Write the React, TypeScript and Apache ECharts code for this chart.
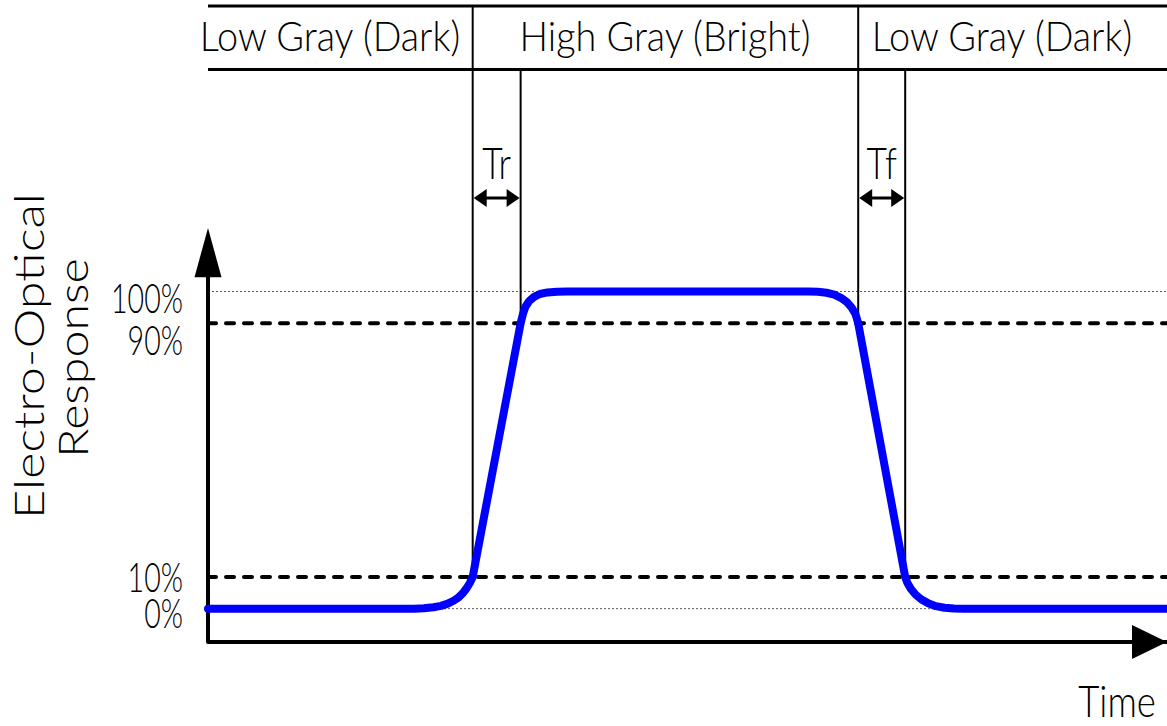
import React, { useEffect, useRef } from "react";
import * as echarts from "echarts";

// Axis extents: time in arbitrary units, response in percent
const timeMin = 0;
const timeMax = 100;
const levelMin = -10.5;
const levelMax = 190;

// Transition instants (10% / 90% crossings)
const riseStart = 27.6;
const riseEnd = 32.6;
const fallStart = 67.8;
const fallEnd = 72.7;

// Electro-optical response curve
const responseTimes = [
  0, 21.5, 22.5, 23.5, 24.3, 25.0, 25.6, 26.1, 26.6, 27.0, 27.3, riseStart,
  riseEnd, 32.85, 33.1, 33.5, 34.0, 34.6, 35.4, 36.4, 37.5,
  62.6, 63.6, 64.5, 65.3, 66.0, 66.6, 67.1, 67.5, fallStart,
  fallEnd, 72.95, 73.3, 73.8, 74.4, 75.1, 75.9, 76.8, 77.8, 78.8, 100,
];
const responseLevels = [
  0, 0, 0.15, 0.45, 0.9, 1.6, 2.5, 3.5, 5.0, 6.6, 8.1, 10,
  90, 93, 95.2, 97.0, 98.3, 99.2, 99.7, 99.95, 100,
  100, 99.9, 99.6, 99.0, 98.0, 96.7, 95.0, 93, 90,
  10, 8.0, 6.2, 4.4, 2.9, 1.7, 0.8, 0.3, 0.05, 0, 0,
];

// Reference levels
const thresholdLevels = [10, 90];
const boundLevels = [0, 100];
const tickValues = [100, 90, 10, 0];
const tickLabels = ["100%", "90%", "10%", "0%"];

// Header band (levels of its top and bottom rules)
const headerTop = 190;
const headerBottom = 170;
const phaseLabels = ["Low Gray (Dark)", "High Gray (Bright)", "Low Gray (Dark)"];

// Vertical markers: [time, lower level, upper level]
const markerTimes = [riseStart, riseEnd, fallStart, fallEnd];
const markerLows = [10, 90, 90, 10];
const markerHighs = [headerTop, headerBottom, headerTop, headerBottom];

const spanLabels = ["Tr", "Tf"];
const yAxisArrowTop = 120;
const yAxisArrowBase = 104.5;

const FONT = "Lato, 'Liberation Sans', Arial, sans-serif";
const WEIGHT = 300;

export default function App() {
  const ref = useRef<HTMLDivElement>(null);

  useEffect(() => {
    if (!ref.current) return;
    const chart = echarts.init(ref.current, undefined, { renderer: "svg" });

    const plainLine = (name: string, data: number[][], lineStyle: any, z = 2) => ({
      name,
      type: "line",
      data,
      symbol: "none",
      clip: false,
      silent: true,
      z,
      lineStyle,
    });

    const series: any[] = [];
    thresholdLevels.forEach((lv) =>
      series.push(
        plainLine("threshold" + lv, [[timeMin, lv], [timeMax, lv]], {
          color: "#000",
          width: 4,
          type: [8, 10],
          cap: "round",
        }, 1)
      )
    );
    boundLevels.forEach((lv) =>
      series.push(
        plainLine("bound" + lv, [[timeMin, lv], [timeMax, lv]], {
          color: "#555",
          width: 1,
          type: [2, 2],
        }, 1)
      )
    );
    series.push(plainLine("headerTop", [[timeMin, headerTop], [timeMax, headerTop]], { color: "#000", width: 3 }));
    series.push(plainLine("headerBottom", [[timeMin, headerBottom], [timeMax, headerBottom]], { color: "#000", width: 3 }));
    markerTimes.forEach((t, i) =>
      series.push(plainLine("marker" + i, [[t, markerLows[i]], [t, markerHighs[i]]], { color: "#000", width: 2 }))
    );
    series.push(plainLine("yAxisLine", [[timeMin, levelMin], [timeMin, yAxisArrowBase + 2]], { color: "#000", width: 4 }));
    series.push({
      name: "response",
      type: "line",
      data: responseTimes.map((t, i) => [t, responseLevels[i]]),
      symbol: "none",
      smooth: false,
      clip: false,
      z: 5,
      lineStyle: { color: "#0000ff", width: 8, cap: "round", join: "round" },
    });

    chart.setOption({
      animation: false,
      backgroundColor: "#ffffff",
      grid: { left: 208, right: 0, top: 6, bottom: 84, containLabel: false },
      xAxis: {
        type: "value",
        min: timeMin,
        max: timeMax,
        axisLine: { show: true, onZero: false, lineStyle: { color: "#000", width: 4 } },
        axisTick: { show: false },
        axisLabel: { show: false },
        splitLine: { show: false },
      },
      yAxis: {
        type: "value",
        min: levelMin,
        max: levelMax,
        axisLine: { show: false },
        axisTick: { show: false },
        axisLabel: { show: false },
        splitLine: { show: false },
      },
      series,
    });

    const px = (t: number, lv: number) => chart.convertToPixel({ gridIndex: 0 }, [t, lv]) as number[];
    const text = (str: string, x: number, y: number, size: number, scaleX: number, align = "center", rotation = 0) => ({
      type: "text",
      x,
      y,
      scaleX,
      rotation,
      silent: true,
      style: {
        text: str,
        fontSize: size,
        fontFamily: FONT,
        fontWeight: WEIGHT,
        fill: "#000",
        align,
        verticalAlign: "middle",
        textAlign: align,
        textVerticalAlign: "middle",
      },
    });

    const graphic: any[] = [];

    // Y axis arrow head
    const yTip = px(timeMin, yAxisArrowTop);
    const yBase = px(timeMin, yAxisArrowBase);
    graphic.push({
      type: "polygon",
      silent: true,
      shape: { points: [[yTip[0], yTip[1]], [yBase[0] - 13.5, yBase[1]], [yBase[0] + 13.5, yBase[1]]] },
      style: { fill: "#000" },
    });
    // Time axis arrow head
    const xEnd = px(timeMax, levelMin);
    graphic.push({
      type: "polygon",
      silent: true,
      shape: { points: [[xEnd[0], xEnd[1]], [xEnd[0] - 35, xEnd[1] - 17], [xEnd[0] - 35, xEnd[1] + 17]] },
      style: { fill: "#000" },
    });

    // Tick labels
    const tickShift = [5.5, 16, -1, 4];
    tickValues.forEach((v, i) => {
      const p = px(timeMin, v);
      graphic.push(text(tickLabels[i], 183, p[1] + tickShift[i], 42, 0.68, "right"));
    });

    // Phase headers
    const headerCenters = [330, 665, 1002];
    const headerY = (px(timeMin, headerTop)[1] + px(timeMin, headerBottom)[1]) / 2 - 2;
    phaseLabels.forEach((s, i) => graphic.push(text(s, headerCenters[i], headerY, 42, 0.9)));

    // Rise / fall time spans with double arrows
    [[riseStart, riseEnd], [fallStart, fallEnd]].forEach(([a, b], i) => {
      const pa = px(a, 0)[0];
      const pb = px(b, 0)[0];
      const y = 198;
      graphic.push({
        type: "line",
        silent: true,
        shape: { x1: pa + 6, y1: y, x2: pb - 6, y2: y },
        style: { stroke: "#000", lineWidth: 3 },
      });
      graphic.push({
        type: "polygon",
        silent: true,
        shape: { points: [[pa + 1, y], [pa + 14, y - 9], [pa + 14, y + 9]] },
        style: { fill: "#000" },
      });
      graphic.push({
        type: "polygon",
        silent: true,
        shape: { points: [[pb - 1, y], [pb - 14, y - 9], [pb - 14, y + 9]] },
        style: { fill: "#000" },
      });
      graphic.push(text(spanLabels[i], (pa + pb) / 2, 162, 43, 0.82));
    });

    // Axis titles
    graphic.push(text("Electro-Optical", 28, 356, 42, 1.2, "center", Math.PI / 2));
    graphic.push(text("Response", 72, 358, 42, 1.15, "center", Math.PI / 2));
    graphic.push(text("Time", 1117, 700, 43, 0.85));

    chart.setOption({ graphic });

    return () => chart.dispose();
  }, []);

  return (
    <div
      ref={ref}
      style={{ position: "fixed", left: 0, top: 0, width: 1167, height: 726, background: "#fff" }}
    />
  );
}
